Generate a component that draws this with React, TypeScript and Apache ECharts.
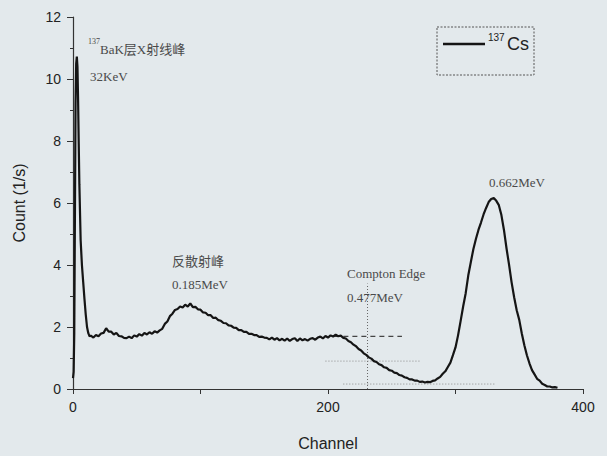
import React, { useEffect, useRef } from "react";
import * as echarts from "echarts";

// Gamma spectrum of 137Cs: channel vs. count rate (1/s)
const seriesName = "137Cs";

// Ba K X-ray spike at the low-channel end
const xraySpike: [number, number][] = [
  [0, 0.35], [0.5, 0.55], [1, 1.8], [1.5, 5.5], [2, 9.2], [2.5, 10.5], [3, 10.72],
  [3.5, 10.4], [4, 9.3], [4.5, 7.9], [5, 6.6], [6, 4.8], [7, 4.0], [8, 3.45],
  [9, 2.9], [10, 2.4], [11, 2.0], [12, 1.8], [13, 1.7],
];

// Flat continuum and backscatter peak
const backscatter: [number, number][] = [
  [14, 1.72], [16, 1.66], [18, 1.74], [20, 1.7], [22, 1.79], [24, 1.81], [26, 1.96],
  [28, 1.85], [30, 1.85], [32, 1.76], [34, 1.81], [36, 1.71], [38, 1.7], [40, 1.65],
  [42, 1.64], [44, 1.69], [46, 1.64], [48, 1.73], [50, 1.69], [52, 1.77], [54, 1.72],
  [56, 1.81], [58, 1.76], [60, 1.83], [62, 1.78], [64, 1.86], [66, 1.82], [68, 1.89],
  [70, 1.94], [72, 2.1], [74, 2.18], [76, 2.35], [78, 2.43], [80, 2.55], [82, 2.58],
  [84, 2.66], [86, 2.63], [88, 2.72], [90, 2.66], [92, 2.76], [94, 2.64], [96, 2.65],
  [98, 2.57], [100, 2.56], [102, 2.47], [104, 2.46], [106, 2.38], [108, 2.38], [110, 2.29],
  [112, 2.3], [114, 2.22], [116, 2.2], [118, 2.13], [120, 2.12], [122, 2.05], [124, 2.04],
  [126, 1.98], [128, 1.97], [130, 1.9], [132, 1.9], [134, 1.84], [136, 1.84], [138, 1.78],
  [140, 1.78], [142, 1.74], [144, 1.74], [146, 1.68], [148, 1.69], [150, 1.66], [152, 1.65],
  [154, 1.6], [156, 1.66], [158, 1.59], [160, 1.64], [162, 1.57], [164, 1.62], [166, 1.56],
  [168, 1.63], [170, 1.55], [172, 1.61], [174, 1.64], [176, 1.55], [178, 1.63], [180, 1.57],
  [182, 1.61], [184, 1.56], [186, 1.62], [188, 1.64], [190, 1.59], [192, 1.66], [194, 1.69],
  [196, 1.63], [198, 1.71], [200, 1.66], [202, 1.73], [204, 1.69], [206, 1.75], [208, 1.7],
];

// Compton edge falling into the valley
const comptonEdge: [number, number][] = [
  [210, 1.72], [212, 1.65], [214, 1.63], [216, 1.55], [218, 1.51], [220, 1.43], [222, 1.38],
  [224, 1.29], [226, 1.24], [228, 1.15], [230, 1.1], [232, 1.02], [234, 0.98], [236, 0.9],
  [238, 0.87], [240, 0.8], [242, 0.77], [244, 0.7], [246, 0.68], [248, 0.61], [250, 0.59],
  [252, 0.53], [254, 0.51], [256, 0.45], [258, 0.43], [260, 0.38], [262, 0.36], [264, 0.31],
  [266, 0.31], [268, 0.27], [270, 0.27], [272, 0.23], [274, 0.24], [276, 0.21], [278, 0.23],
  [280, 0.22], [282, 0.26],
];

// 0.662 MeV full-energy peak
const photopeak: [number, number][] = [
  [284, 0.28], [286, 0.34], [288, 0.39], [290, 0.49], [292, 0.57], [294, 0.71], [296, 0.85],
  [298, 1.09], [300, 1.34], [302, 1.73], [304, 2.19], [306, 2.66], [308, 3.09], [310, 3.66],
  [312, 4.09], [314, 4.51], [316, 4.84], [318, 5.13], [320, 5.37], [322, 5.63], [324, 5.84],
  [326, 6.03], [328, 6.13], [330, 6.16], [332, 6.07], [334, 5.93], [336, 5.61], [338, 5.13],
  [340, 4.54], [342, 4.01], [344, 3.44], [346, 2.96], [348, 2.54], [350, 2.23], [352, 1.79],
  [354, 1.41], [356, 1.09], [358, 0.83], [360, 0.61], [362, 0.47], [364, 0.33], [366, 0.27],
  [368, 0.17], [370, 0.13], [372, 0.08], [374, 0.08], [376, 0.05], [378, 0.06], [380, 0.04],
];

// Guide lines marking the Compton edge
const edgeVertical: [number, number][] = [[231, 0], [231, 3.4]];
const edgeLevel: [number, number][] = [[205, 1.7], [258, 1.7]];
const edgeHalf: [number, number][] = [[198, 0.9], [272, 0.9]];
const edgeBase: [number, number][] = [[212, 0.16], [332, 0.16]];

const xTicks = { min: 0, max: 400, interval: 200 };
const yTicks = { min: 0, max: 12, interval: 2 };

const SANS = "'Liberation Sans', Arial, sans-serif";
const SERIF = "'Liberation Serif', 'Times New Roman', 'Noto Sans CJK SC', serif";
const NOTE = "#4a4a4a";

function guide(data: [number, number][], type: string | number[], color: string, width = 1) {
  return {
    type: "line",
    data,
    symbol: "none",
    silent: true,
    lineStyle: { color, width, type },
    z: 1,
  };
}

export default function App() {
  const ref = useRef<HTMLDivElement>(null);

  useEffect(() => {
    document.body.style.margin = "0";
    const chart = echarts.init(ref.current!, undefined, { renderer: "svg" });
    const spectrum = [...xraySpike, ...backscatter, ...comptonEdge, ...photopeak];

    chart.setOption({
      animation: false,
      backgroundColor: "#e3e9ec",
      grid: { left: 73, top: 17, width: 510, height: 375 },
      xAxis: {
        type: "value",
        ...xTicks,
        name: "Channel",
        nameLocation: "middle",
        nameGap: 46,
        nameTextStyle: { fontFamily: SANS, fontSize: 16, color: "#222" },
        axisLine: { show: true, lineStyle: { color: "#333", width: 1.2 } },
        axisTick: { show: true, length: 5, lineStyle: { color: "#333" } },
        minorTick: { show: true, splitNumber: 2, length: 5, lineStyle: { color: "#333" } },
        splitLine: { show: false },
        axisLabel: { fontFamily: SANS, fontSize: 14, color: "#222", margin: 11 },
      },
      yAxis: {
        type: "value",
        ...yTicks,
        name: "Count (1/s)",
        nameLocation: "middle",
        nameGap: 46,
        nameTextStyle: { fontFamily: SANS, fontSize: 16, color: "#222" },
        axisLine: { show: true, lineStyle: { color: "#333", width: 1.2 } },
        axisTick: { show: true, length: 6, lineStyle: { color: "#333" } },
        minorTick: { show: true, splitNumber: 2, length: 3, lineStyle: { color: "#333" } },
        splitLine: { show: false },
        axisLabel: { fontFamily: SANS, fontSize: 14, color: "#222", margin: 12 },
      },
      series: [
        guide(edgeVertical, [1, 2], "#666"),
        guide(edgeLevel, [5, 4], "#444", 1.3),
        guide(edgeHalf, [1, 2], "#8a8a8a"),
        guide(edgeBase, [1, 2], "#8a8a8a"),
        {
          name: seriesName,
          type: "line",
          data: spectrum,
          symbol: "none",
          lineStyle: { color: "#151515", width: 2.2 },
          z: 3,
        },
      ],
      graphic: [
        // legend box
        {
          type: "rect",
          shape: { x: 437, y: 27, width: 97, height: 48 },
          style: { fill: "none", stroke: "#555", lineWidth: 1, lineDash: [2, 1.5] },
        },
        {
          type: "line",
          shape: { x1: 443, y1: 44, x2: 485, y2: 44 },
          style: { stroke: "#151515", lineWidth: 2.5 },
        },
        { type: "text", x: 488, y: 32, style: { text: "137", font: `10px ${SANS}`, fill: "#222" } },
        { type: "text", x: 507, y: 35, style: { text: "Cs", font: `18px ${SANS}`, fill: "#222" } },

        // peak annotations
        { type: "text", x: 88, y: 37, style: { text: "137", font: `8px ${SERIF}`, fill: NOTE } },
        { type: "text", x: 100, y: 43, style: { text: "BaK层X射线峰", font: `13px ${SERIF}`, fill: NOTE } },
        { type: "text", x: 90, y: 70, style: { text: "32KeV", font: `13px ${SERIF}`, fill: NOTE } },
        { type: "text", x: 172, y: 255, style: { text: "反散射峰", font: `13px ${SERIF}`, fill: NOTE } },
        { type: "text", x: 172, y: 278, style: { text: "0.185MeV", font: `13px ${SERIF}`, fill: NOTE } },
        { type: "text", x: 347, y: 267, style: { text: "Compton Edge", font: `13px ${SERIF}`, fill: NOTE } },
        { type: "text", x: 347, y: 291, style: { text: "0.477MeV", font: `13px ${SERIF}`, fill: NOTE } },
        { type: "text", x: 489, y: 176, style: { text: "0.662MeV", font: `13px ${SERIF}`, fill: NOTE } },
      ],
    });

    return () => chart.dispose();
  }, []);

  return (
    <div
      ref={ref}
      style={{ position: "fixed", left: 0, top: 0, width: 607, height: 456 }}
    />
  );
}
